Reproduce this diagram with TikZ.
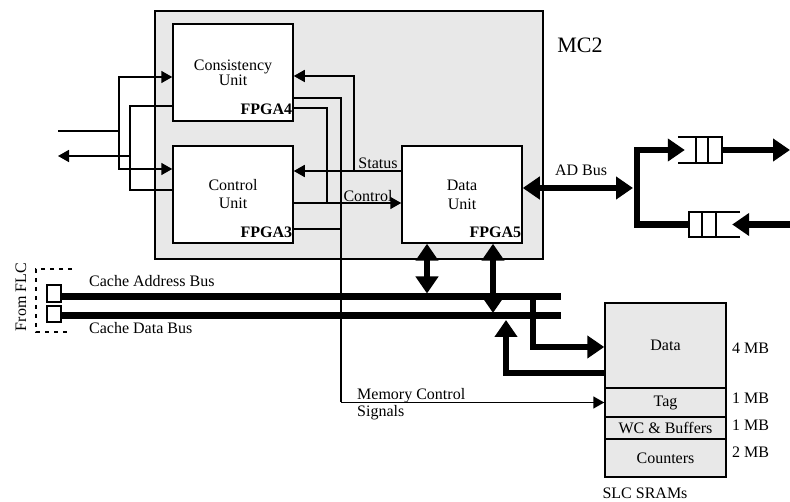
\documentclass[tikz,border=0pt]{standalone}
\usepackage{fontspec}
\setmainfont{Liberation Serif}
\usetikzlibrary{arrows.meta}
\definecolor{boxgray}{RGB}{232,232,232}
\tikzset{
  every node/.style={font=\fontsize{16}{17}\selectfont},
  unit/.style={draw, line width=1.5pt, fill=white, minimum width=120pt, minimum height=97pt, align=center, inner sep=0pt},
  fpga/.style={anchor=base east, inner sep=0pt, font=\fontsize{16}{17}\selectfont\bfseries},
  sram/.style={draw, line width=1.5pt, fill=boxgray, minimum width=121pt, inner sep=0pt},
  port/.style={draw, line width=1.5pt, minimum width=14pt, inner sep=0pt},
  queue/.style={minimum height=25pt, inner sep=0pt},
  qline/.style={line width=2.2pt},
  lbl/.style={anchor=west, inner sep=0pt},
  sig/.style={line width=1.6pt},
  bus/.style={line width=7pt},
  bbus/.style={line width=6.5pt, line join=miter},
  stip/.tip={Triangle[length=11pt,width=12pt]},
  btip/.tip={Triangle[length=17pt,width=22pt]}
}
\begin{document}
\begin{tikzpicture}[x=1pt,y=-1pt]
\useasboundingbox (0,0) rectangle (790,502);

\node[draw, line width=1.5pt, fill=boxgray, minimum width=388pt, minimum height=248pt] (mc2) at (349,135) {};
\node[font=\fontsize{22}{24}\selectfont] (mc2lbl) at (580,45) {MC2};
\node[unit, font=\fontsize{16}{14}\selectfont] (cons) at (233,72.5) {Consistency\\Unit};
\node[unit, font=\fontsize{16}{18}\selectfont] (ctrl) at (233,194.5) {Control\\Unit};
\node[unit, font=\fontsize{16}{19}\selectfont] (data) at (462,194.5) {Data\\Unit};
\node[fpga] (f4) at ([shift={(-1.5pt,7pt)}]cons.south east) {FPGA4};
\node[fpga] (f3) at ([shift={(-1.5pt,6.5pt)}]ctrl.south east) {FPGA3};
\node[fpga] (f5) at ([shift={(-1.5pt,6.5pt)}]data.south east) {FPGA5};

% SLC SRAMs
\node[sram, minimum height=85pt] (sdata) at (665.5,345.5) {Data};
\node[sram, minimum height=29pt] (stag) at (665.5,402.5) {Tag};
\node[sram, minimum height=22pt] (swc) at (665.5,428) {WC \& Buffers};
\node[sram, minimum height=38pt] (scnt) at (665.5,458) {Counters};
\node[lbl] (m4) at (732,348) {4 MB};
\node[lbl] (m1a) at (732,398) {1 MB};
\node[lbl] (m1b) at (732,425) {1 MB};
\node[lbl] (m2) at (732,452) {2 MB};
\node (slc) at (645,493) {SLC SRAMs};

% left side
\coordinate (in) at (58,131);
\coordinate (jin) at (119,131);
\coordinate (out) at (58,156);
\coordinate (jout) at (130,156);
\draw[sig] (in) -- (jin);
\draw[sig,-stip] (jin) |- ([yshift=-4.5pt]cons.west);
\draw[sig,-stip] (jin) |- ([yshift=25.5pt]ctrl.west);
\draw[sig] ([yshift=-33.5pt]cons.west) -| (jout);
\draw[sig] ([yshift=4.5pt]ctrl.west) -| (jout);
\draw[sig,-stip] (jout) -- (out);

% status, control, memory signals
\coordinate (jst) at (354,171);
\coordinate (jct) at (327,203);
\coordinate (jmem) at (341,402.5);
\draw[sig,-stip] ([yshift=23.5pt]data.west) -- ([yshift=23.5pt]ctrl.east);
\draw[sig,-stip] (jst) |- ([yshift=-3.5pt]cons.east);
\draw[sig] ([yshift=-35.5pt]cons.east) -| (jct);
\draw[sig,-stip] ([yshift=-8.5pt]ctrl.east) -- ([yshift=-8.5pt]data.west);
\draw[sig] ([yshift=-25.5pt]cons.east) -| (jmem);
\draw[sig] ([yshift=-34.5pt]ctrl.east) -| (jmem);
\draw[sig,-stip] (jmem) -- (stag.west);
\node (st) at (378,163) {Status};
\node (cl) at (368,196) {Control};
\node[anchor=north west, inner sep=0pt, align=left] (mcs) at (357,388) {Memory Control\\Signals};

% cache buses
\node[port, minimum height=17pt] (fa) at (54,293.5) {};
\node[port, minimum height=16pt] (fd) at (54,314) {};
\coordinate (abusE) at (561,297);
\coordinate (dbusE) at (561,316);
\draw[bus] (fa.east |- abusE) -- (abusE);
\draw[bus] (fd.east |- dbusE) -- (dbusE);
\draw[line width=1.5pt, dash pattern=on 4pt off 5pt] (72,269) -| (36,332) -- (68,332);
\node[rotate=90] (flc) at (21,297) {From FLC};
\node[lbl] (cab) at (89,281) {Cache Address Bus};
\node[lbl] (cdb) at (89,328) {Cache Data Bus};

\coordinate (du1) at ([xshift=-35pt]data.south);
\coordinate (du2) at ([xshift=31pt]data.south);
\draw[bbus, btip-btip, shorten >=3.5pt] (du1) -- (du1 |- abusE);
\draw[bbus, btip-btip, shorten >=3pt] (du2) -- (du2 |- dbusE);
\coordinate (tapA) at (533,297);
\coordinate (tapD) at (506,320);
\draw[bbus,-btip] (tapA) |- ([yshift=-1.5pt]sdata.west);
\draw[bbus,btip-] (tapD) |- ([yshift=-27.5pt]sdata.west);

% AD bus and queues
\node[queue, minimum width=44pt, minimum height=26pt] (q1) at (700,150) {};
\node[queue, minimum width=51pt] (q2) at (714.5,224.5) {};
\draw[qline] (q1.north west) -- (q1.north east) -- (q1.south east) -- (q1.south west);
\draw[qline] ([xshift=18pt]q1.north west) -- ([xshift=18pt]q1.south west);
\draw[qline] ([xshift=30pt]q1.north west) -- ([xshift=30pt]q1.south west);
\draw[qline] (q2.north east) -- (q2.north west) -- (q2.south west) -- (q2.south east);
\draw[qline] ([xshift=13pt]q2.north west) -- ([xshift=13pt]q2.south west);
\draw[qline] ([xshift=27pt]q2.north west) -- ([xshift=27pt]q2.south west);
\coordinate (adj) at (637,188);
\coordinate (outR) at (790,150);
\coordinate (inR) at (790,224.5);
\draw[bbus, btip-btip, shorten >=4pt] ([yshift=6.5pt]data.east) -- (adj);
\draw[bbus,-btip] (adj) |- ([xshift=7pt]q1.west);
\draw[bbus] (adj) |- (q2.west);
\draw[bbus,-btip] (q1.east) -- (outR);
\draw[bbus,-btip] (inR) -- ([xshift=-8pt]q2.east);
\node (adb) at (581,170) {AD Bus};
\end{tikzpicture}
\end{document}
